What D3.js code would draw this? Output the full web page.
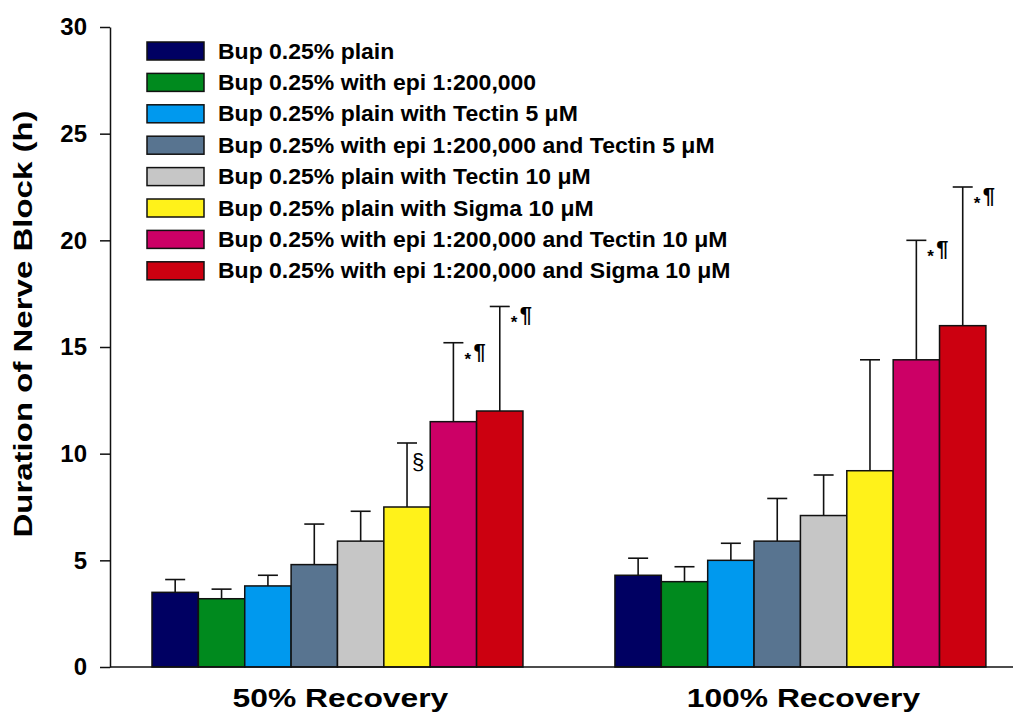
<!DOCTYPE html>
<html>
<head>
<meta charset="utf-8">
<script src="https://d3js.org/d3.v7.min.js"></script>
<style>
    body { margin: 0; background: #fff; }
    svg text { font-family: "Liberation Sans", Arial, sans-serif; font-weight: bold; fill: #000; }
</style>
</head>
<body>
<svg id="svg" width="1015" height="712"></svg>
<script>
    // data
    let groups = ['50% Recovery', '100% Recovery'];
    let seriesNames = [
        'Bup 0.25% plain',
        'Bup 0.25% with epi 1:200,000',
        'Bup 0.25% plain with Tectin 5 μM',
        'Bup 0.25% with epi 1:200,000 and Tectin 5 μM',
        'Bup 0.25% plain with Tectin 10 μM',
        'Bup 0.25% plain with Sigma 10 μM',
        'Bup 0.25% with epi 1:200,000 and Tectin 10 μM',
        'Bup 0.25% with epi 1:200,000 and Sigma 10 μM'
    ];
    let colors = ['#000062', '#008a1e', '#0099ee', '#587490', '#c6c6c6', '#fff21a', '#cc0066', '#cc0010'];
    let means50 = [3.5, 3.2, 3.8, 4.8, 5.9, 7.5, 11.5, 12.0];
    let errTop50 = [4.1, 3.65, 4.3, 6.7, 7.3, 10.5, 15.2, 16.9];
    let means100 = [4.3, 4.0, 5.0, 5.9, 7.1, 9.2, 14.4, 16.0];
    let errTop100 = [5.1, 4.7, 5.8, 7.9, 9.0, 14.4, 20.0, 22.5];
    let marks50 = ['', '', '', '', '', '§', '*¶', '*¶'];
    let marks100 = ['', '', '', '', '', '', '*¶', '*¶'];
    let yTicks = [0, 5, 10, 15, 20, 25, 30];

    let svg = d3.select('#svg');

    // the original font is a bit wider than Arial, so stretch text along its line
    function widen(sel, k) {
        sel.each(function() {
            let w = this.getComputedTextLength();
            d3.select(this).attr('textLength', w * k).attr('lengthAdjust', 'spacingAndGlyphs');
        });
    }

    let yScale = d3.scaleLinear().domain([0, 30]).range([667, 27]);
    let xGroup = d3.scaleBand().domain(groups)
        .range([105.7, 1032.2]).paddingInner(0.1987).paddingOuter(0.1);
    let xBar = d3.scaleBand().domain(d3.range(seriesNames.length))
        .range([0, xGroup.bandwidth()]);

    let rows = [];
    groups.forEach((g, gi) => {
        let means = gi == 0 ? means50 : means100;
        let tops = gi == 0 ? errTop50 : errTop100;
        let marks = gi == 0 ? marks50 : marks100;
        means.forEach((m, i) => rows.push({group: g, i: i, mean: m, top: tops[i], mark: marks[i]}));
    });

    // error bars (behind bars)
    let eb = svg.append('g').attr('stroke', '#111').attr('stroke-width', 1.6);
    rows.forEach(d => {
        let cx = xGroup(d.group) + xBar(d.i) + xBar.bandwidth() / 2;
        eb.append('line').attr('x1', cx).attr('x2', cx)
            .attr('y1', yScale(d.mean)).attr('y2', yScale(d.top));
        eb.append('line').attr('x1', cx - 10).attr('x2', cx + 10)
            .attr('y1', yScale(d.top)).attr('y2', yScale(d.top));
    });

    svg.append('g').selectAll('rect')
        .data(rows)
        .enter()
        .append('rect')
        .attr('x', d => xGroup(d.group) + xBar(d.i))
        .attr('y', d => yScale(d.mean))
        .attr('width', xBar.bandwidth())
        .attr('height', d => yScale(0) - yScale(d.mean))
        .attr('fill', d => colors[d.i])
        .attr('stroke', '#111')
        .attr('stroke-width', 1.5);

    // significance marks
    rows.filter(d => d.mark != '').forEach(d => {
        let cx = xGroup(d.group) + xBar(d.i) + xBar.bandwidth() / 2;
        let y = yScale(d.top);
        if (d.mark == '§') {
            svg.append('text').text('§')
                .attr('x', cx + 5).attr('y', y + 26)
                .style('font-weight', 'normal').style('font-size', '22px');
        } else {
            svg.append('text').text('*')
                .attr('x', cx + 11).attr('y', y + 22)
                .style('font-size', '17px');
            svg.append('text').text('¶')
                .attr('x', cx + 20).attr('y', y + 16)
                .style('font-size', '22px');
        }
    });

    // axes
    let yAxis = d3.axisLeft(yScale).tickValues(yTicks).tickSize(10).tickPadding(13).tickSizeOuter(0);
    let yG = svg.append('g').attr('transform', 'translate(110,0)').call(yAxis);
    yG.select('.domain').attr('stroke', '#111').attr('stroke-width', 1.5);
    yG.selectAll('.tick line').attr('stroke', '#111').attr('stroke-width', 1.5);
    yG.selectAll('.tick text').style('font-size', '24px')
        .style('font-family', '"Liberation Sans", Arial, sans-serif').style('font-weight', 'bold');

    svg.append('line').attr('x1', 110).attr('x2', 1013)
        .attr('y1', yScale(0)).attr('y2', yScale(0))
        .attr('stroke', '#111').attr('stroke-width', 1.5);

    groups.forEach(g => {
        svg.append('text').text(g)
            .attr('x', xGroup(g) + xGroup.bandwidth() / 2 + 3).attr('y', 707)
            .attr('text-anchor', 'middle').style('font-size', '26.5px')
            .call(widen, 1.2);
    });

    svg.append('text').text('Duration of Nerve Block (h)')
        .attr('transform', 'translate(32,324) rotate(-90)')
        .attr('text-anchor', 'middle').style('font-size', '26.5px')
        .call(widen, 1.245);

    // legend
    let legend = svg.append('g').attr('transform', 'translate(147,42)');
    seriesNames.forEach((s, i) => {
        let row = legend.append('g').attr('transform', `translate(0,${i * 31.4})`);
        row.append('rect').attr('width', 57).attr('height', 18)
            .attr('fill', colors[i]).attr('stroke', '#111').attr('stroke-width', 1.5);
        row.append('text').text(s).attr('x', 71).attr('y', 16.5)
            .style('font-size', '22px')
            .call(widen, 1.045);
    });
</script>
</body>
</html>
